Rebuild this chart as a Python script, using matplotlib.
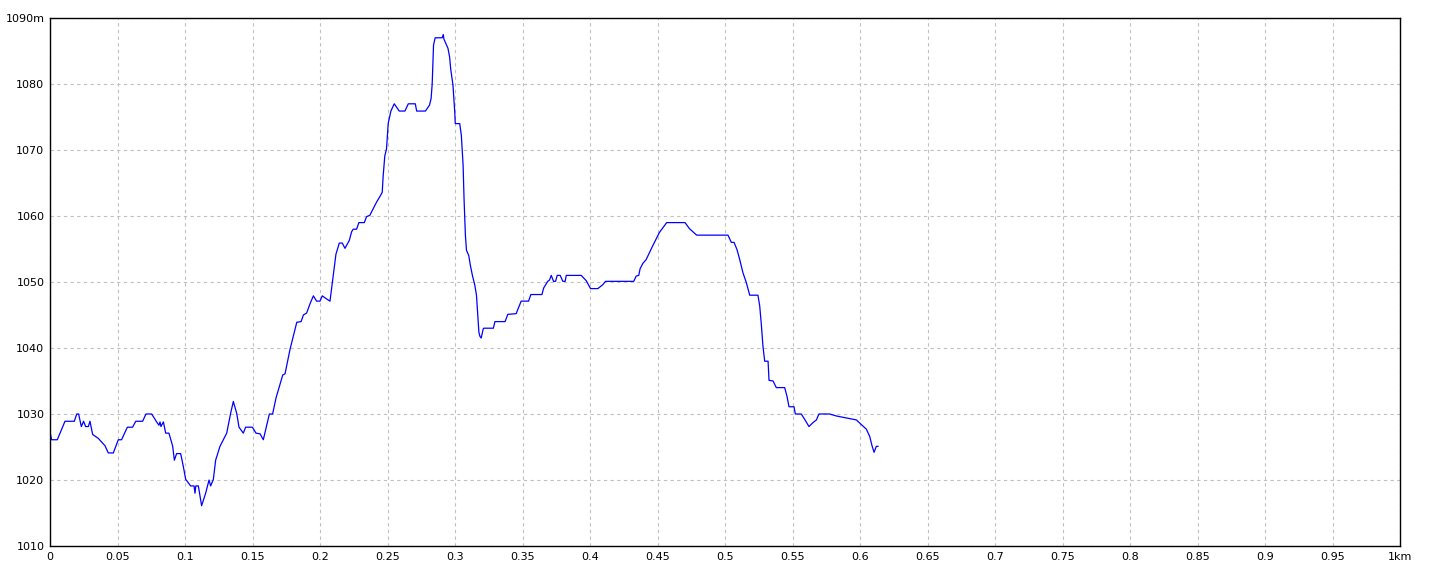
import matplotlib
matplotlib.use("Agg")
import matplotlib.pyplot as plt

# distance (km) and elevation (m)
dist_km = [
    0.0005, 0.0012, 0.0054, 0.0111, 0.018, 0.0198, 0.0212, 0.0232, 0.0249, 0.0264,
    0.0284, 0.0296, 0.0316, 0.0358, 0.0407, 0.0432, 0.0469, 0.0506, 0.053, 0.0573,
    0.0612, 0.0635, 0.0686, 0.0711, 0.0753, 0.079, 0.0807, 0.0815, 0.0822, 0.084,
    0.0857, 0.0881, 0.0909, 0.0921, 0.0938, 0.0968, 0.0988, 0.1005, 0.1042, 0.1067,
    0.1074, 0.1080, 0.1099, 0.1123, 0.1153, 0.1178, 0.119, 0.121, 0.1227, 0.1259,
    0.1284, 0.1309, 0.1338, 0.1358, 0.1383, 0.14, 0.1432, 0.1449, 0.1499, 0.1526,
    0.1556, 0.158, 0.1625, 0.1649, 0.1675, 0.1724, 0.1741, 0.1778, 0.1828, 0.186,
    0.1877, 0.1901, 0.1926, 0.1951, 0.1975, 0.2, 0.2017, 0.2044, 0.2074, 0.2098,
    0.2118, 0.2143, 0.2165, 0.2185, 0.2217, 0.2234, 0.2246, 0.2271, 0.2288, 0.2328,
    0.2345, 0.2369, 0.2419, 0.2448, 0.2461, 0.2468, 0.248, 0.2493, 0.2505, 0.2525,
    0.2550, 0.2587, 0.2629, 0.2654, 0.2706, 0.2716, 0.2781, 0.2811, 0.2823, 0.2831,
    0.2841, 0.2853, 0.2905, 0.2913, 0.2918, 0.2948, 0.296, 0.2968, 0.2985, 0.299,
    0.2998, 0.3002, 0.3035, 0.3047, 0.306, 0.3067, 0.3077, 0.3085, 0.3102, 0.3114,
    0.3129, 0.3147, 0.3159, 0.3167, 0.3177, 0.3184, 0.3194, 0.3209, 0.3214, 0.3284,
    0.3296, 0.3371, 0.3391, 0.3453, 0.349, 0.3545, 0.3562, 0.3644, 0.3657, 0.3687,
    0.37, 0.3713, 0.373, 0.3745, 0.3757, 0.3779, 0.3799, 0.3816, 0.3824, 0.3935,
    0.3972, 0.4004, 0.4058, 0.4095, 0.4115, 0.4324, 0.4342, 0.4361, 0.4371, 0.4391,
    0.4416, 0.4465, 0.4514, 0.4568, 0.4704, 0.4736, 0.479, 0.5022, 0.5047, 0.5067,
    0.5089, 0.5109, 0.5133, 0.5158, 0.5183, 0.5244, 0.5257, 0.5269, 0.5281, 0.5294,
    0.5319, 0.5326, 0.5356, 0.538, 0.5442, 0.5459, 0.5474, 0.5511, 0.5521, 0.5565,
    0.559, 0.5622, 0.5652, 0.5677, 0.5696, 0.5775, 0.5825, 0.5899, 0.5973, 0.601,
    0.6047, 0.6072, 0.6089, 0.6104, 0.6121, 0.6133,
]
elev_m = [
    1026.8, 1026.1, 1026.1, 1028.9, 1028.9, 1030.0, 1030.0, 1028.1, 1028.9, 1028.1,
    1028.1, 1028.9, 1026.9, 1026.3, 1025.2, 1024.1, 1024.1, 1026.1, 1026.1, 1028.0,
    1028.0, 1028.9, 1028.9, 1030.0, 1030.0, 1028.8, 1028.3, 1028.8, 1028.1, 1028.8,
    1027.1, 1027.1, 1025.1, 1023.0, 1024.0, 1024.0, 1022.0, 1020.1, 1019.1, 1019.1,
    1018.0, 1019.1, 1019.1, 1016.1, 1018.0, 1020.0, 1019.1, 1020.1, 1023.0, 1025.1,
    1026.1, 1027.1, 1030.1, 1031.9, 1030.1, 1028.0, 1027.1, 1028.0, 1028.0, 1027.1,
    1027.0, 1026.1, 1030.0, 1030.0, 1032.5, 1035.9, 1036.1, 1039.8, 1043.9, 1044.0,
    1045.0, 1045.3, 1046.7, 1047.9, 1047.1, 1047.1, 1047.9, 1047.5, 1047.1, 1051.0,
    1054.2, 1055.9, 1055.9, 1055.1, 1056.3, 1057.6, 1058.0, 1058.0, 1059.0, 1059.0,
    1059.9, 1060.1, 1062.1, 1063.1, 1063.6, 1066.1, 1069.1, 1070.2, 1074.0, 1075.9,
    1077.0, 1075.9, 1075.9, 1077.0, 1077.0, 1075.9, 1075.9, 1076.8, 1077.8, 1080.0,
    1085.9, 1087.0, 1087.0, 1087.5, 1086.8, 1085.4, 1084.1, 1082.3, 1079.8, 1078.3,
    1075.8, 1074.0, 1074.0, 1072.2, 1067.7, 1062.6, 1057.1, 1054.8, 1054.0, 1052.5,
    1051.0, 1049.5, 1048.0, 1045.5, 1042.4, 1041.8, 1041.5, 1042.9, 1043.0, 1043.0,
    1044.0, 1044.0, 1045.1, 1045.2, 1047.1, 1047.1, 1048.1, 1048.1, 1049.1, 1050.1,
    1050.3, 1051.0, 1050.1, 1050.1, 1051.0, 1051.0, 1050.1, 1050.1, 1051.0, 1051.0,
    1050.2, 1049.0, 1049.0, 1049.6, 1050.1, 1050.1, 1050.9, 1051.0, 1052.0, 1052.8,
    1053.4, 1055.5, 1057.5, 1059.0, 1059.0, 1058.1, 1057.1, 1057.1, 1056.0, 1056.0,
    1054.9, 1053.4, 1051.4, 1049.9, 1048.0, 1048.0, 1046.4, 1043.6, 1040.3, 1038.0,
    1038.0, 1035.1, 1035.0, 1034.0, 1034.0, 1032.7, 1031.1, 1031.1, 1030.0, 1030.0,
    1029.2, 1028.1, 1028.7, 1029.1, 1030.0, 1030.0, 1029.7, 1029.4, 1029.1, 1028.4,
    1027.7, 1026.6, 1025.2, 1024.2, 1025.1, 1025.1,
]

x_ticks = [i * 0.05 for i in range(21)]
x_labels = ["0", "0.05", "0.1", "0.15", "0.2", "0.25", "0.3", "0.35", "0.4", "0.45",
            "0.5", "0.55", "0.6", "0.65", "0.7", "0.75", "0.8", "0.85", "0.9", "0.95", "1km"]
y_ticks = [1010, 1020, 1030, 1040, 1050, 1060, 1070, 1080, 1090]
y_labels = ["1010", "1020", "1030", "1040", "1050", "1060", "1070", "1080", "1090m"]

fig = plt.figure(figsize=(14.4, 5.76), dpi=100)
ax = fig.add_axes([50 / 1440, 30 / 576, 1350 / 1440, 528 / 576])

ax.plot(dist_km, elev_m, color="#0000ff", linewidth=0.9)

ax.set_xlim(0, 1)
ax.set_ylim(1010, 1090)
ax.set_xticks(x_ticks)
ax.set_xticklabels(x_labels)
ax.set_yticks(y_ticks)
ax.set_yticklabels(y_labels)
ax.tick_params(length=0, labelsize=8, pad=4, colors="black")

ax.grid(True, color="#c0c0c0", linestyle=(0, (3, 3)), linewidth=0.8)
for s in ax.spines.values():
    s.set_color("black")
    s.set_linewidth(1)

fig.savefig("out.png", dpi=100)
